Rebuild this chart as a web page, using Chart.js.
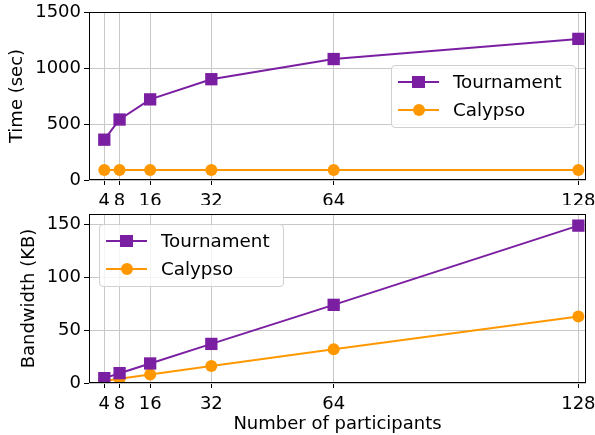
<!DOCTYPE html>
<html>
<head>
<meta charset="utf-8">
<script src="https://cdn.jsdelivr.net/npm/chart.js@4"></script>
<style>
    body { margin: 0; background: #fff; }
    #wrap { position: relative; width: 595px; height: 435px; font-family: "DejaVu Sans", sans-serif; }
    canvas { position: absolute; left: 0; }
    .legend {
        position: absolute;
        box-sizing: border-box;
        border: 1px solid #d0d0d0;
        border-radius: 4px;
        background: rgba(255, 255, 255, 0.8);
        font-size: 18.3px;
    }
    .legend .row { position: absolute; left: 0; height: 20px; width: 100%; }
    .legend .line { position: absolute; left: 6px; top: 9px; width: 41px; height: 2px; }
    .legend .mark { position: absolute; }
    .legend .txt { position: absolute; left: 61px; top: 0; line-height: 20px; color: #000; white-space: nowrap; }
</style>
</head>
<body>
<div id="wrap">
    <canvas id="timeChart" width="595" height="205" style="top:0"></canvas>
    <canvas id="bwChart" width="595" height="230" style="top:205px"></canvas>
</div>
<script>
const participants = [4, 8, 16, 32, 64, 128];
const tournamentTime = [360, 540, 720, 900, 1080, 1260];
const calypsoTime = [90, 90, 90, 90, 90, 90];
const tournamentBandwidth = [4.6, 9.3, 18.5, 37, 74, 149];
const calypsoBandwidth = [2, 4, 8, 16, 32, 63];
const timeTicks = [0, 500, 1000, 1500];
const bandwidthTicks = [0, 50, 100, 150];

const purple = "#7b1fa2";
const orange = "#ff9800";

Chart.defaults.font.family = "DejaVu Sans";
Chart.defaults.font.size = 18;
Chart.defaults.color = "#000";

// black box round the plot area, like matplotlib spines
const frame = {
    id: "frame",
    afterDatasetsDraw(chart) {
        const a = chart.chartArea;
        const ctx = chart.ctx;
        ctx.save();
        ctx.strokeStyle = "#000";
        ctx.lineWidth = 1;
        ctx.strokeRect(Math.round(a.left) + 0.5, Math.round(a.top) + 0.5,
            Math.round(a.right - a.left) - 1, Math.round(a.bottom - a.top) - 1);
        ctx.restore();
    },
};

function series(label, values, color, style) {
    return {
        label: label,
        data: participants.map((x, i) => ({ x: x, y: values[i] })),
        borderColor: color,
        backgroundColor: color,
        borderWidth: 2,
        pointStyle: style,
        pointRadius: style === "rect" ? 8.7 : 6,
        pointHoverRadius: style === "rect" ? 8.7 : 6,
        pointBorderWidth: 0,
        tension: 0,
    };
}

function makeChart(id, datasets, yTicks, yMax, yTitle, yTitlePad, opts) {
    return new Chart(document.getElementById(id), {
        type: "line",
        data: { datasets: datasets },
        options: {
            responsive: false,
            animation: false,
            layout: { padding: { top: opts.top, right: 9, left: 0, bottom: 0 } },
            plugins: { legend: { display: false }, tooltip: { enabled: false } },
            scales: {
                x: {
                    type: "linear",
                    min: 0,
                    max: 130,
                    afterBuildTicks: (s) => { s.ticks = participants.map((v) => ({ value: v })); },
                    afterFit: (s) => { s.height = opts.xHeight; s.paddingLeft = 0; s.paddingRight = 0; },
                    ticks: { padding: 6, maxRotation: 0, autoSkip: false, callback: (v) => String(v) },
                    grid: { color: "#c8c8c8", tickColor: "#000", tickLength: 5 },
                    border: { display: false },
                    title: opts.xTitle
                        ? { display: true, text: opts.xTitle, padding: { top: 0, bottom: 0 } }
                        : { display: false },
                },
                y: {
                    min: 0,
                    max: yMax,
                    afterBuildTicks: (s) => { s.ticks = yTicks.map((v) => ({ value: v })); },
                    afterFit: (s) => { s.width = 89; s.paddingTop = 0; s.paddingBottom = 0; },
                    ticks: { padding: 3, callback: (v) => String(v) },
                    grid: { color: "#c8c8c8", tickColor: "#000", tickLength: 5 },
                    border: { display: false },
                    title: { display: true, text: yTitle, padding: { top: yTitlePad, bottom: 0 } },
                },
            },
        },
        plugins: [frame],
    });
}

function addLegend(chart, left, top) {
    const box = document.createElement("div");
    box.className = "legend";
    box.style.left = left + "px";
    box.style.top = top + "px";
    box.style.width = "185px";
    box.style.height = "63px";
    chart.data.datasets.forEach((ds, i) => {
        const row = document.createElement("div");
        row.className = "row";
        row.style.top = (5.7 + i * 28.3) + "px";
        const line = document.createElement("div");
        line.className = "line";
        line.style.background = ds.borderColor;
        const mark = document.createElement("div");
        mark.className = "mark";
        mark.style.background = ds.borderColor;
        const size = ds.pointStyle === "rect" ? 12.3 : 12;
        mark.style.width = size + "px";
        mark.style.height = size + "px";
        mark.style.left = (26.5 - size / 2) + "px";
        mark.style.top = (10 - size / 2) + "px";
        if (ds.pointStyle === "circle") mark.style.borderRadius = "50%";
        const txt = document.createElement("div");
        txt.className = "txt";
        txt.textContent = ds.label;
        row.appendChild(line);
        row.appendChild(mark);
        row.appendChild(txt);
        box.appendChild(row);
    });
    document.getElementById("wrap").appendChild(box);
}

const timeChart = makeChart("timeChart", [
    series("Tournament", tournamentTime, purple, "rect"),
    series("Calypso", calypsoTime, orange, "circle"),
], timeTicks, 1500, "Time (sec)", 6.5, { top: 12, xHeight: 25 });

const bwChart = makeChart("bwChart", [
    series("Tournament", tournamentBandwidth, purple, "rect"),
    series("Calypso", calypsoBandwidth, orange, "circle"),
], bandwidthTicks, 160, "Bandwidth (KB)", 19, { top: 9, xHeight: 52, xTitle: "Number of participants" });

addLegend(timeChart, 391, 65);
addLegend(bwChart, 99, 224);
</script>
</body>
</html>
